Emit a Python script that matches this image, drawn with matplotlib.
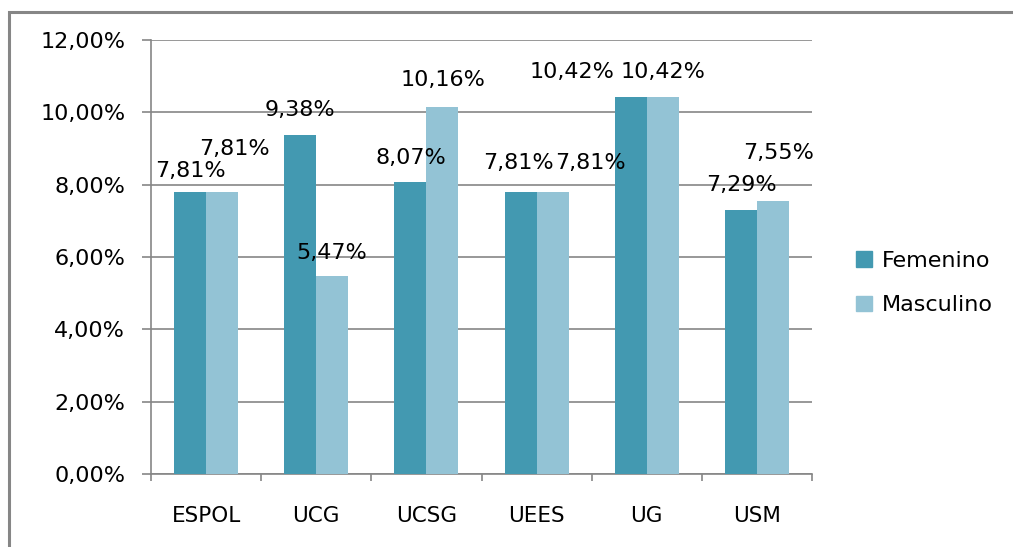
import numpy as np
import matplotlib
matplotlib.use('Agg')
import matplotlib.pyplot as plt
from matplotlib.patches import Rectangle, Patch

# data
universidades = ['ESPOL', 'UCG', 'UCSG', 'UEES', 'UG', 'USM']
femenino = [7.81, 9.38, 8.07, 7.81, 10.42, 7.29]
masculino = [7.81, 5.47, 10.16, 7.81, 10.42, 7.55]

# label nudges (pixels) to follow the original placement
off_fem = [(0, 21), (0, 25), (0, 24), (-2, 29), (-59, 25), (0, 25)]
off_mas = [(12, 43), (-1, 23), (1, 27), (38, 29), (0, 25), (6, 48)]

c_fem = '#4399B1'
c_mas = '#93C3D5'
gris = '#868686'
fs = 16

plt.rcParams['font.family'] = ['DejaVu Sans']

W, H = 1013, 547
fig = plt.figure(figsize=(W / 100, H / 100), dpi=100)
ax = fig.add_axes([151 / W, (H - 474) / H, (812 - 151) / W, (474 - 40) / H])

# outer chart border
fig.patches.append(Rectangle((9 / W, -0.05), 1.2, 1 - 12 / H + 0.05,
                             transform=fig.transFigure, fill=False,
                             edgecolor=gris, linewidth=2.2))

x = np.arange(len(universidades))
w = 0.29
b1 = ax.bar(x - w / 2, femenino, w, color=c_fem, zorder=3)
b2 = ax.bar(x + w / 2, masculino, w, color=c_mas, zorder=3)

def fmt(v):
    return ('%.2f%%' % v).replace('.', ',')

for bars, vals, offs in [(b1, femenino, off_fem), (b2, masculino, off_mas)]:
    for r, v, (dx, dy) in zip(bars, vals, offs):
        ax.annotate(fmt(v), (r.get_x() + r.get_width() / 2, v),
                    xytext=(dx, dy), textcoords='offset pixels',
                    ha='center', va='center', fontsize=fs, zorder=5)

ax.set_ylim(0, 12)
ax.set_xlim(-0.5, len(universidades) - 0.5)
ax.set_yticks(np.arange(0, 12.1, 2))
ax.set_yticklabels([fmt(v) for v in np.arange(0, 12.1, 2)], fontsize=fs)
ax.set_xticks(x)
ax.set_xticklabels(universidades, fontsize=fs - 0.5)
ax.set_xticks(np.arange(-0.5, len(universidades)), minor=True)

ax.grid(axis='y', color=gris, linewidth=1.2, zorder=0)
ax.set_axisbelow(True)
for s in ['top', 'right']:
    ax.spines[s].set_visible(False)
for s in ['left', 'bottom']:
    ax.spines[s].set_color(gris)
    ax.spines[s].set_linewidth(1.2)

ax.tick_params(axis='y', length=6.5, width=1.2, color=gris, pad=12)
ax.tick_params(axis='x', which='major', length=0, pad=23)
ax.tick_params(axis='x', which='minor', length=5, width=1.2, color=gris)

handles = [Patch(color=c_fem, label='Femenino'), Patch(color=c_mas, label='Masculino')]
fig.legend(handles=handles, loc='center left', bbox_to_anchor=(836 / W, 1 - 283 / H),
           frameon=False, fontsize=fs, handlelength=0.7, handleheight=0.7,
           handletextpad=0.45, labelspacing=1.1)

fig.savefig('out.png', dpi=100)
